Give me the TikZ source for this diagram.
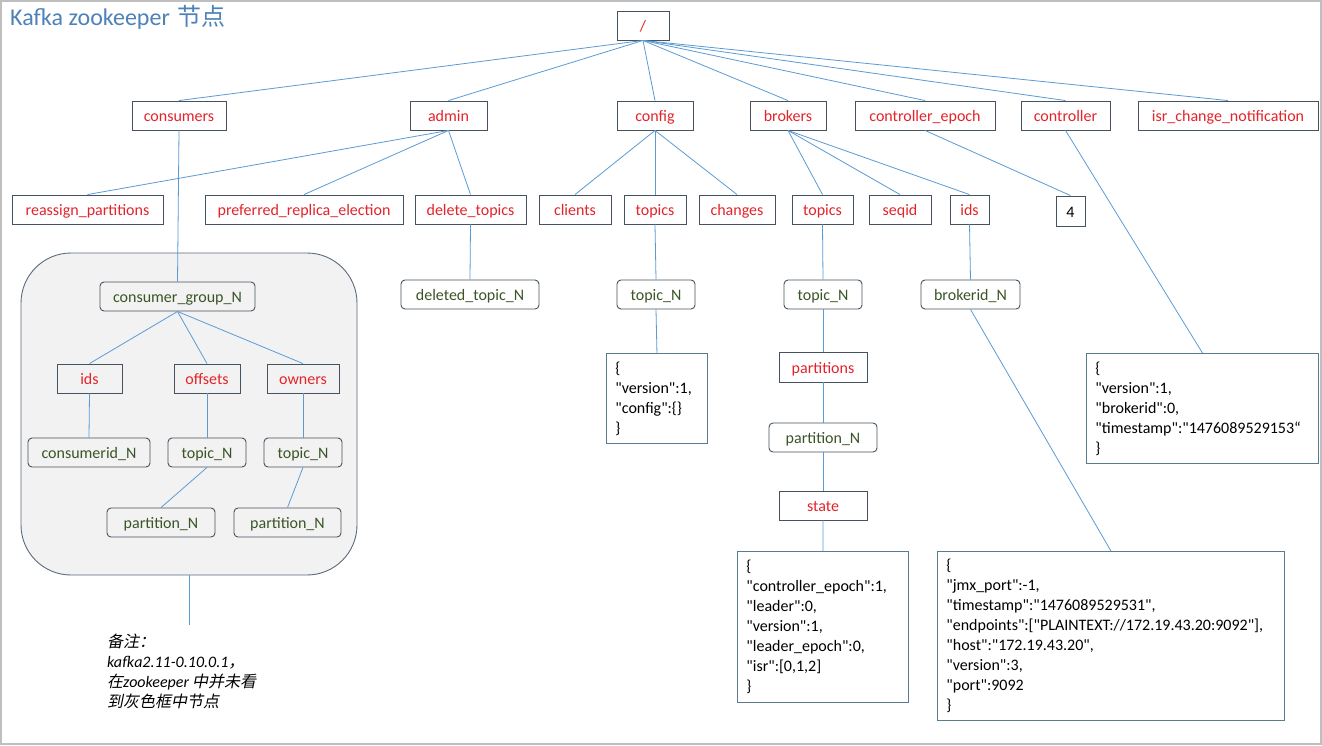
\documentclass[tikz,border=0pt]{standalone}
\usepackage{fontspec}
\setmainfont{Carlito}[Ligatures=TeXOff]
\newfontfamily\cjk{Noto Sans CJK SC}
\newfontfamily\cjki[FakeSlant=0.2]{Noto Sans CJK SC}
\newcommand\kzfont{\fontsize{16}{20}\selectfont}
\definecolor{redc}{HTML}{E3242B}
\definecolor{greenc}{HTML}{3B5526}
\definecolor{boxc}{HTML}{46535E}
\definecolor{jsonc}{HTML}{5A7A90}
\definecolor{linec}{HTML}{5B9BD5}
\definecolor{titlec}{HTML}{4D82B8}
\definecolor{grpfill}{HTML}{F2F2F2}
\definecolor{grpline}{HTML}{5B6B7B}
\tikzset{
  rbox/.style={draw=boxc, line width=0.9pt, text=redc, minimum height=29pt, inner xsep=0pt, inner ysep=0pt, text height=15pt, text depth=3pt, font=\kzfont},
  gbox/.style={rbox, text=greenc, rounded corners=4pt},
  kbox/.style={rbox, text=black},
  jbox/.style={draw=jsonc, line width=0.9pt, text=black, align=left, inner xsep=9pt, inner ysep=0pt, font=\kzfont, anchor=north west},
  link/.style={draw=linec, line width=0.8pt}
}
\begin{document}
\begin{tikzpicture}[x=1pt,y=-1pt]
\useasboundingbox (0,0) rectangle (1322,745);
\fill[white] (0,0) rectangle (1322,745);
\draw[black!25, line width=2pt] (1,1) rectangle (1321,744);

% title
\node[anchor=base west, text=titlec, font=\fontsize{24}{28}\selectfont, inner sep=0pt] (title) at (10,25.5) {Kafka zookeeper\hspace{2pt} {\cjk 节点}};

% gray group
\node[draw=grpline, fill=grpfill, line width=0.9pt, rounded corners=50pt, minimum width=336pt, minimum height=322pt, inner sep=0pt] (grp) at (189,414) {};

% root and first row
\node[rbox, minimum width=52pt] (root) at (643,25.5) {/};
\node[rbox, minimum width=94pt] (consumers) at (179,115.5) {consumers};
\node[rbox, minimum width=77pt] (admin) at (448.5,115.5) {admin};
\node[rbox, minimum width=76pt] (config) at (655,115.5) {config};
\node[rbox, minimum width=76pt] (brokers) at (788,115.5) {brokers};
\node[rbox, minimum width=140pt] (cepoch) at (925,115.5) {controller\_epoch};
\node[rbox, minimum width=89pt] (ctrl) at (1065.5,115.5) {controller};
\node[rbox, minimum width=180pt] (isr) at (1228,115.5) {isr\_change\_notification};

% second row
\node[rbox, minimum width=151pt] (reassign) at (87.5,209.5) {reassign\_partitions};
\node[rbox, minimum width=198pt] (prefer) at (304,209.5) {preferred\_replica\_election};
\node[rbox, minimum width=111pt] (deltop) at (470.5,209.5) {delete\_topics};
\node[rbox, minimum width=72pt] (clients) at (575,209.5) {clients};
\node[rbox, minimum width=62pt] (ctopics) at (655,209.5) {topics};
\node[rbox, minimum width=76pt] (changes) at (737,209.5) {changes};
\node[rbox, minimum width=61pt] (btopics) at (822.5,209.5) {topics};
\node[rbox, minimum width=62pt] (seqid) at (900,209.5) {seqid};
\node[rbox, minimum width=39pt] (bids) at (969.5,209.5) {ids};
\node[kbox, minimum width=29pt, minimum height=30pt] (four) at (1070.5,211) {4};

% inside gray group
\node[gbox, minimum width=155pt] (cgroup) at (177.5,296.5) {consumer\_group\_N};
\node[rbox, minimum width=65pt] (cids) at (89.5,378.5) {ids};
\node[rbox, minimum width=66pt] (offsets) at (207,378.5) {offsets};
\node[rbox, minimum width=72pt] (owners) at (303,378.5) {owners};
\node[gbox, minimum width=122pt] (consumerid) at (89,452.5) {consumerid\_N};
\node[gbox, minimum width=78pt] (otopic) at (207,452.5) {topic\_N};
\node[gbox, minimum width=78pt] (wtopic) at (303,452.5) {topic\_N};
\node[gbox, minimum width=108pt] (opart) at (161,522.5) {partition\_N};
\node[gbox, minimum width=107pt] (wpart) at (287.5,522.5) {partition\_N};

% lower nodes
\node[gbox, minimum width=138pt] (deltopicN) at (470,294.5) {deleted\_topic\_N};
\node[gbox, minimum width=78pt] (ctopicN) at (656,294.5) {topic\_N};
\node[jbox, text width=83pt, minimum height=90pt] (cjson) at (606,353) {\{\\"version":1,\\"config":\{\}\\\}};
\node[gbox, minimum width=78pt] (btopicN) at (823,294.5) {topic\_N};
\node[rbox, minimum width=88pt, minimum height=30pt] (partitions) at (823,367) {partitions};
\node[gbox, minimum width=108pt] (partN) at (823,437.5) {partition\_N};
\node[rbox, minimum width=88pt] (state) at (823,505.5) {state};
\node[jbox, text width=153pt, minimum height=151pt] (sjson) at (737,551) {\{\\"controller\_epoch":1,\\"leader":0,\\"version":1,\\"leader\_epoch":0,\\"isr":[0,1,2]\\\}};
\node[gbox, minimum width=99pt] (brokerid) at (970.5,294.5) {brokerid\_N};
\node[jbox, text width=329pt, minimum height=169pt] (bjson) at (937,551) {\{\\"jmx\_port":-1,\\"timestamp":"1476089529531",\\"endpoints":["PLAINTEXT://172.19.43.20:9092"],\\"host":"172.19.43.20",\\"version":3,\\"port":9092\\\}};
\node[jbox, text width=214pt, minimum height=110pt] (ctrljson) at (1086,353) {\{\\"version":1,\\"brokerid":0,\\"timestamp":"1476089529153“\\\}};

% note
\coordinate (nend) at (189,625);
\node[anchor=north west, align=left, inner sep=0pt, font=\fontsize{16}{20}\selectfont\itshape] (note) at (107,634) {{\cjki 备注：}\\kafka2.11-0.10.0.1{\cjki ，}\\{\cjki 在}zookeeper\hspace{3pt}{\cjki 中并未看}\\{\cjki 到灰色框中节点}};

% links
\foreach \n in {consumers,admin,config,brokers,cepoch,ctrl,isr}
  \draw[link] (root.south) -- (\n.north);
\draw[link] (consumers.south) -- (cgroup.north);
\foreach \n in {reassign,prefer,deltop}
  \draw[link] (admin.south) -- (\n.north);
\foreach \n in {clients,ctopics,changes}
  \draw[link] (config.south) -- (\n.north);
\foreach \n in {btopics,seqid,bids}
  \draw[link] (brokers.south) -- (\n.north);
\draw[link] (cepoch.south) -- (four.north);
\draw[link] (ctrl.south) -- (ctrljson.north);
\foreach \n in {cids,offsets,owners}
  \draw[link] (cgroup.south) -- (\n.north);
\draw[link] (cids.south) -- (consumerid.north);
\draw[link] (offsets.south) -- (otopic.north);
\draw[link] (owners.south) -- (wtopic.north);
\draw[link] (otopic.south) -- (opart.north);
\draw[link] (wtopic.south) -- (wpart.north);
\draw[link] (grp.south) -- (nend);
\draw[link] (deltop.south) -- (deltopicN.north);
\draw[link] (ctopics.south) -- (ctopicN.north);
\draw[link] (ctopicN.south) -- (cjson.north);
\draw[link] (btopics.south) -- (btopicN.north);
\draw[link] (btopicN.south) -- (partitions.north);
\draw[link] (partitions.south) -- (partN.north);
\draw[link] (partN.south) -- (state.north);
\draw[link] (state.south) -- (sjson.north);
\draw[link] (bids.south) -- (brokerid.north);
\draw[link] (brokerid.south) -- (bjson.north);
\end{tikzpicture}
\end{document}
